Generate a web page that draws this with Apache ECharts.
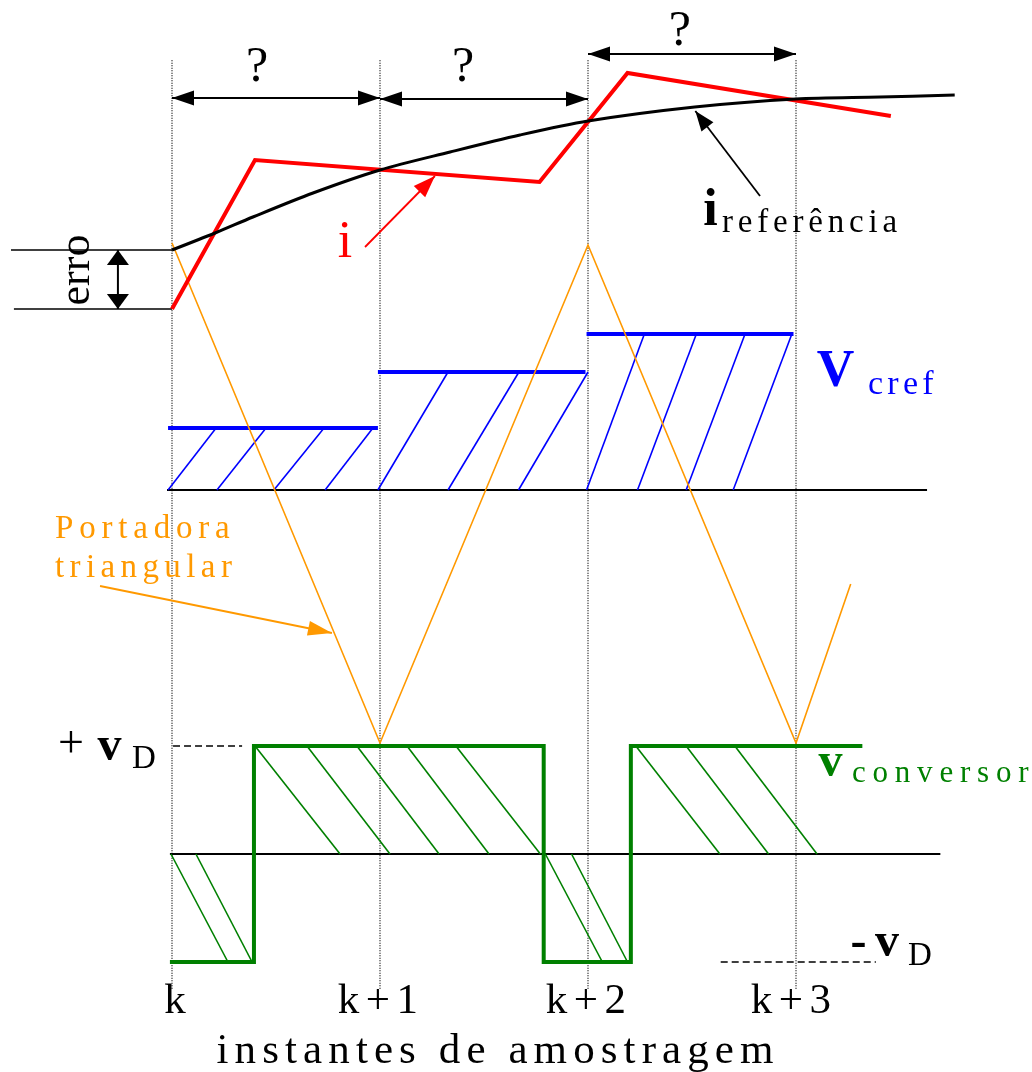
<!DOCTYPE html>
<html>
<head>
<meta charset="utf-8">
<script src="https://cdn.jsdelivr.net/npm/echarts@6/dist/echarts.min.js"></script>
<style>
html, body { margin: 0; padding: 0; background: #fff; }
#chart { width: 1032px; height: 1072px; }
</style>
</head>
<body>
<div id="chart"></div>
<script>
// x is measured in sampling periods, 0 = instant k
const instants = [0, 1, 2, 3];
const instantLabels = ['k', 'k+1', 'k+2', 'k+3'];

// current panel (arbitrary units)
const iRef = [[0, 5.9], [0.207, 7.6], [0.389, 9.2], [0.678, 11.6], [1.0, 13.9], [1.337, 15.7], [1.673, 17.4], [2.0, 18.8], [2.513, 20.2], [3.0, 21.0], [3.404, 21.2], [3.763, 21.4]];
const iMeas = [[0, 0], [0.399, 14.9], [1.767, 12.7], [2.19, 23.6], [3.456, 19.3]];
const erroLevels = [5.9, 0];

// reference voltage held over each period + triangular carrier (peak = 1)
const vcrefLevels = [0.248, 0.472, 0.624];
const vcrefSpans = [[-0.019, 0.99], [0.99, 1.988], [1.993, 2.988]];
const vcrefHatch = [
  [[-0.019, 0.212], [0.216, 0.452], [0.49, 0.731], [0.736, 0.966]],
  [[0.99, 1.327], [1.327, 1.668], [1.666, 2.0]],
  [[1.993, 2.271], [2.238, 2.521], [2.472, 2.755], [2.698, 2.98]]
];
const carrier = [[0, 0.988], [1, -1.012], [2, 0.98], [3, -1.012], [3.263, -0.376]];

// converter voltage in units of vD
const vConv = [[-0.01, -1], [0.394, -1], [0.394, 1], [1.787, 1], [1.787, -1], [2.206, -1], [2.206, 1], [3.319, 1]];
const vConvHatchPos = [[0.399, 0.808], [0.649, 1.048], [0.889, 1.284], [1.13, 1.524], [1.365, 1.771], [2.23, 2.634], [2.472, 2.868], [2.706, 3.101]];
const vConvHatchNeg = [[-0.005, 0.269], [0.115, 0.385], [1.795, 2.069], [1.921, 2.19]];

// ---- annotations (anchors in data units) ----
const periodArrows = [[0, 21.1, 1, 21.1], [1, 21.0, 2, 21.0], [2, 25.5, 3, 25.5]];
const erroArrow = [[-0.26, 5.9, -0.26, 0]];
const iPointer = [[0.928, 6.2, 1.264, 13.3]];
const iRefPointer = [[2.827, 11.3, 2.516, 19.8]];
const carrierPointer = [[-0.346, -0.384, 0.769, -0.572]];

// ---- layout ----
const W = 1032, H = 1072;
const K_PX = 172, T_PX = 208;
const FONT = '"Liberation Serif", "Times New Roman", serif';
function yRange(zeroPx, pxPerUnit) {
  return { min: (zeroPx - H) / pxPerUnit, max: zeroPx / pxPerUnit };
}
const yCur = yRange(309, 10), yRefV = yRange(490, 250), yConv = yRange(854, 108);

const RED = '#ff0000', BLUE = '#0000ff', GREEN = '#008000', ORANGE = '#ff9900', BLACK = '#000';

function segSeries(yAxisIndex, segs, stroke, width, dash) {
  return {
    type: 'custom', xAxisIndex: 0, yAxisIndex, silent: true, clip: false,
    data: segs,
    renderItem(params, api) {
      const a = api.coord([api.value(0), api.value(1)]);
      const b = api.coord([api.value(2), api.value(3)]);
      return {
        type: 'line',
        shape: { x1: a[0], y1: a[1], x2: b[0], y2: b[1] },
        style: { stroke, lineWidth: width, lineDash: dash || null }
      };
    }
  };
}

function arrowSeries(yAxisIndex, arrows, color, width, headLen, headW, both) {
  return {
    type: 'custom', xAxisIndex: 0, yAxisIndex, silent: true, clip: false,
    data: arrows,
    renderItem(params, api) {
      const a = api.coord([api.value(0), api.value(1)]);
      const b = api.coord([api.value(2), api.value(3)]);
      const head = (tip, from) => {
        const dx = tip[0] - from[0], dy = tip[1] - from[1];
        const L = Math.hypot(dx, dy), ux = dx / L, uy = dy / L;
        const bx = tip[0] - ux * headLen, by = tip[1] - uy * headLen;
        return {
          type: 'polygon',
          shape: { points: [[tip[0], tip[1]], [bx - uy * headW / 2, by + ux * headW / 2], [bx + uy * headW / 2, by - ux * headW / 2]] },
          style: { fill: color }
        };
      };
      const children = [
        { type: 'line', shape: { x1: a[0], y1: a[1], x2: b[0], y2: b[1] }, style: { stroke: color, lineWidth: width } },
        head(b, a)
      ];
      if (both) children.push(head(a, b));
      return { type: 'group', children };
    }
  };
}

// label: [text, t, value, style]
function textSeries(yAxisIndex, labels) {
  return {
    type: 'custom', xAxisIndex: 0, yAxisIndex, silent: true, clip: false,
    data: labels.map(l => [l[1], l[2]]),
    renderItem(params, api) {
      const l = labels[params.dataIndex];
      const s = l[3];
      const p = api.coord([api.value(0), api.value(1)]);
      const weight = s.weight || 'normal';
      const style = {
        text: l[0], fill: s.color || BLACK,
        font: weight + ' ' + s.size + 'px ' + FONT,
        align: s.align || 'center', verticalAlign: 'middle'
      };
      if (s.gap) {
        style.text = l[0].split('').map(c => '{c|' + c + '}').join('{g| }');
        style.rich = {
          c: { fontSize: s.size, fontFamily: FONT, fontWeight: weight, fill: s.color || BLACK },
          g: { width: s.gap, fontSize: s.size, fontFamily: FONT }
        };
      }
      return {
        type: 'text', x: p[0], y: s.rot ? p[1] : p[1] - 0.305 * s.size,
        rotation: s.rot || 0, style
      };
    }
  };
}

const Q = { size: 50 };
const curLabels = [
  ['?', 0.409, 22.6, Q], ['?', 1.399, 22.6, Q], ['?', 2.442, 26.2, Q],
  ['erro', -0.457, 3.9, { size: 44, rot: Math.PI / 2 }],
  ['i', 0.832, 5.0, { size: 52, color: RED }],
  ['i', 2.589, 8.2, { size: 52, weight: 'bold' }],
  ['referência', 2.644, 7.6, { size: 33, align: 'left', gap: 4.8 }]
];
const refLabels = [
  ['V', 3.19, 0.408, { size: 52, weight: 'bold', color: BLUE }],
  ['cref', 3.346, 0.38, { size: 34, align: 'left', gap: 4.3, color: BLUE }],
  ['Portadora', -0.5625, -0.196, { size: 33, align: 'left', gap: 5.8, color: ORANGE }],
  ['triangular', -0.5625, -0.352, { size: 33, align: 'left', gap: 5.4, color: ORANGE }]
];
const instantLabelPos = [0.014, 0.99, 1.99, 2.975];
const convLabels = [
  ['+', -0.486, 0.88, { size: 46 }],
  ['v', -0.3, 0.852, { size: 48, weight: 'bold' }],
  ['D', -0.192, 0.787, { size: 33, align: 'left' }],
  ['v', 3.166, 0.704, { size: 48, weight: 'bold', color: GREEN }],
  ['conversor', 3.269, 0.657, { size: 31, align: 'left', gap: 6.8, color: GREEN }],
  ['-', 3.3, -0.968, { size: 48, weight: 'bold' }],
  ['v', 3.438, -0.963, { size: 48, weight: 'bold' }],
  ['D', 3.538, -1.037, { size: 33, align: 'left' }],
  ['instantes de amostragem', 1.553, -1.954, { size: 43, gap: 6.1 }]
].concat(instantLabels.map((txt, i) => [txt, instantLabelPos[i], -1.491, { size: 43, gap: 6.5 }]));

// derived segment lists
const dotted = instants.map(t => [t, 7.35, t, -1.26]);
const erroLines = [[-0.774, erroLevels[0], 0, erroLevels[0]], [-0.76, erroLevels[1], 0, erroLevels[1]]];
const refBase = [[-0.024, 0, 3.63, 0]];
const convBase = [[-0.01, 0, 3.694, 0]];
const vdDashes = [[0.005, 1, 0.337, 1], [2.638, -1, 3.384, -1]];
const vcrefSegs = vcrefSpans.map((s, i) => [s[0], vcrefLevels[i], s[1], vcrefLevels[i]]);
const vcrefHatchSegs = [];
vcrefHatch.forEach((lines, i) => lines.forEach(h => vcrefHatchSegs.push([h[0], 0, h[1], vcrefLevels[i]])));
const convHatchSegs = vConvHatchPos.map(h => [h[0], 1, h[1], 0]).concat(vConvHatchNeg.map(h => [h[0], 0, h[1], -1]));

function lineSeries(yAxisIndex, data, color, width, smooth) {
  return {
    type: 'line', xAxisIndex: 0, yAxisIndex, data, silent: true,
    showSymbol: false, symbol: 'none', smooth: smooth || false,
    lineStyle: { color, width, join: 'miter' }
  };
}

const chart = echarts.init(document.getElementById('chart'), null, { renderer: 'canvas' });
chart.setOption({
  backgroundColor: '#fff',
  animation: false,
  grid: { left: 0, right: 0, top: 0, bottom: 0 },
  xAxis: { type: 'value', min: -K_PX / T_PX, max: (W - K_PX) / T_PX, show: false },
  yAxis: [
    { type: 'value', min: yCur.min, max: yCur.max, show: false },
    { type: 'value', min: yRefV.min, max: yRefV.max, show: false },
    { type: 'value', min: yConv.min, max: yConv.max, show: false }
  ],
  series: [
    segSeries(2, dotted, BLACK, 1.2, [1, 1.5]),
    segSeries(2, vdDashes, BLACK, 1.5, [7, 4]),
    segSeries(1, refBase, BLACK, 2),
    segSeries(2, convBase, BLACK, 2),
    segSeries(1, vcrefHatchSegs, BLUE, 1.6),
    segSeries(1, vcrefSegs, BLUE, 4),
    segSeries(2, convHatchSegs, GREEN, 1.6),
    lineSeries(1, carrier, ORANGE, 1.6),
    lineSeries(2, vConv, GREEN, 4),
    segSeries(0, erroLines, BLACK, 1.6),
    lineSeries(0, iMeas, RED, 4),
    lineSeries(0, iRef, BLACK, 3, 0.3),
    arrowSeries(0, periodArrows, BLACK, 1.8, 22, 15, true),
    arrowSeries(0, erroArrow, BLACK, 2, 15, 22, true),
    arrowSeries(0, iPointer, RED, 1.8, 22, 16, false),
    arrowSeries(0, iRefPointer, BLACK, 1.8, 20, 15, false),
    arrowSeries(1, carrierPointer, ORANGE, 1.8, 24, 15, false),
    textSeries(0, curLabels),
    textSeries(1, refLabels),
    textSeries(2, convLabels)
  ]
});
</script>
</body>
</html>
